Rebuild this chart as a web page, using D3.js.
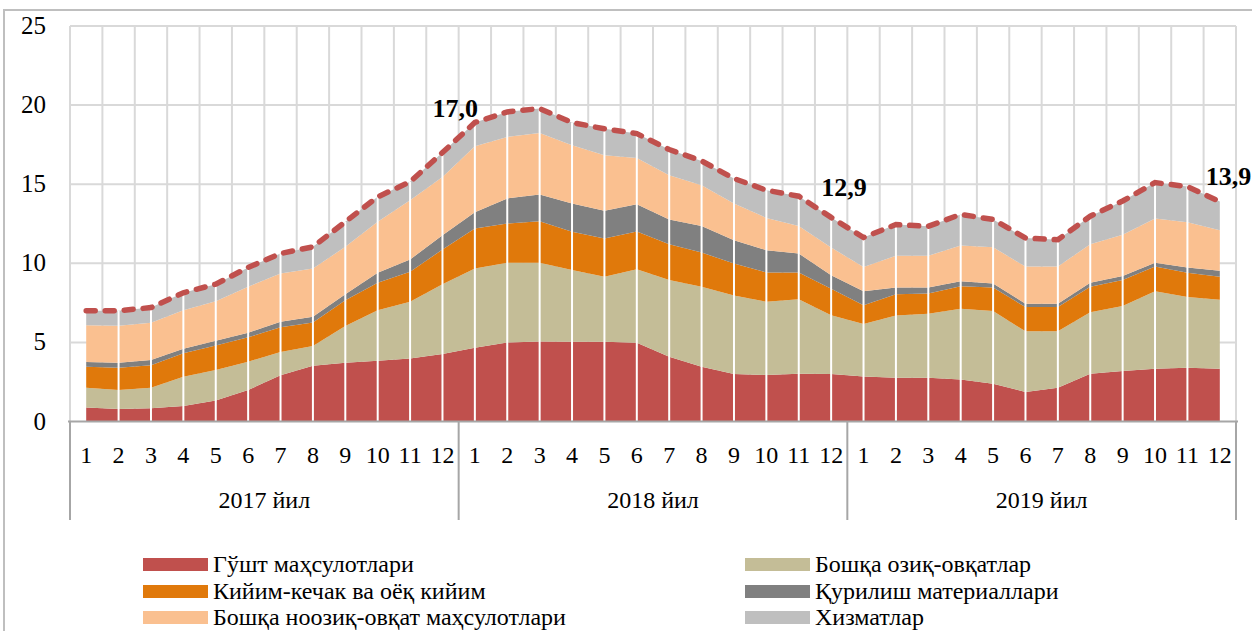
<!DOCTYPE html>
<html><head><meta charset="utf-8">
<script src="https://cdn.jsdelivr.net/npm/d3@7"></script>
<style>
body{margin:0;background:#fff}
svg{display:block}
text{font-family:"Liberation Serif","Times New Roman",serif;fill:#000}
</style>
</head><body>
<svg id="chart" width="1252" height="631"></svg>
<script>
// ---------- DATA ----------
const months = ["1","2","3","4","5","6","7","8","9","10","11","12"];
const years = ["2017 йил","2018 йил","2019 йил"];
const seriesNames = ["Гўшт маҳсулотлари","Бошқа озиқ-овқатлар","Кийим-кечак ва оёқ кийим","Қурилиш материаллари","Бошқа ноозиқ-овқат маҳсулотлари","Хизматлар"];
const meat = [0.89,0.79,0.83,0.98,1.32,1.99,2.92,3.53,3.72,3.84,3.99,4.27, 4.66,5.00,5.06,5.04,5.04,4.98,4.09,3.46,3.00,2.94,3.02,3.00, 2.84,2.77,2.77,2.66,2.38,1.87,2.13,3.02,3.19,3.34,3.40,3.34];
const otherFood = [1.25,1.20,1.31,1.85,1.93,1.79,1.47,1.24,2.31,3.20,3.58,4.41, 5.01,5.03,4.97,4.53,4.11,4.65,4.85,5.06,4.97,4.63,4.70,3.71, 3.33,3.93,4.04,4.47,4.60,3.83,3.57,3.89,4.11,4.89,4.47,4.36];
const clothing = [1.32,1.41,1.41,1.48,1.56,1.54,1.56,1.49,1.64,1.73,1.89,2.19, 2.53,2.49,2.63,2.42,2.42,2.38,2.27,2.16,2.02,1.85,1.70,1.68, 1.18,1.34,1.28,1.42,1.49,1.53,1.53,1.60,1.64,1.56,1.53,1.45];
const construction = [0.30,0.32,0.33,0.29,0.29,0.29,0.36,0.36,0.38,0.63,0.78,0.90, 1.02,1.58,1.69,1.79,1.75,1.73,1.56,1.67,1.47,1.41,1.20,0.86, 0.89,0.43,0.38,0.32,0.25,0.22,0.22,0.26,0.25,0.25,0.34,0.38];
const otherNonFood = [2.33,2.33,2.36,2.44,2.50,2.91,3.05,3.05,2.99,3.22,3.75,3.69, 4.18,3.89,3.89,3.68,3.51,2.92,2.80,2.59,2.32,2.04,1.73,1.75, 1.52,2.00,2.00,2.26,2.30,2.34,2.34,2.44,2.62,2.79,2.86,2.56];
const services = [0.91,0.95,0.96,1.10,1.08,1.22,1.26,1.37,1.58,1.58,1.16,1.54, 1.50,1.58,1.54,1.44,1.67,1.54,1.62,1.53,1.58,1.75,1.89,1.90, 1.87,1.98,1.87,1.96,1.75,1.81,1.70,1.77,2.13,2.27,2.25,1.81];
const yTicks = [0,5,10,15,20,25];
const labelledPoints = [11,23,35];

// ---------- BUILD ----------
const colors = ["#C0504D","#C4BD97","#E0790B","#808080","#FAC090","#BFBFBF"];
const seriesArrays = [meat, otherFood, clothing, construction, otherNonFood, services];
const categories = years.flatMap((y,yi)=>months.map(m=>yi+"-"+m));
const rows = categories.map((c,i)=>{
  const r={cat:c};
  seriesNames.forEach((n,k)=>r[n]=seriesArrays[k][i]);
  r.total = d3.sum(seriesArrays, a=>a[i]);
  return r;
});

const svg = d3.select("#chart");
const L=70, R=1236, T=26, B=421.5;
const x = d3.scaleBand().domain(categories).range([L,R]);
const cx = c => x(c)+x.bandwidth()/2;
const y = d3.scaleLinear().domain([0,25]).range([B,T]);

// outer frame
svg.append("rect").attr("x",4).attr("y",10).attr("width",1260).attr("height",640)
  .attr("fill","none").attr("stroke","#bfbfbf").attr("stroke-width",2);

// gridlines
const grid = svg.append("g");
grid.selectAll("line.h").data(yTicks.filter(v=>v>0)).join("line")
  .attr("x1",L).attr("x2",R).attr("y1",d=>y(d)).attr("y2",d=>y(d))
  .attr("stroke","#d9d9d9").attr("stroke-width",2);
grid.selectAll("line.v").data(categories.concat(["end"])).join("line")
  .attr("x1",(d,i)=>L+i*x.bandwidth()).attr("x2",(d,i)=>L+i*x.bandwidth())
  .attr("y1",T).attr("y2",B).attr("stroke","#d9d9d9").attr("stroke-width",2);

// stacked areas
const stack = d3.stack().keys(seriesNames);
const layers = stack(rows);
const area = d3.area().x(d=>cx(d.data.cat)).y0(d=>y(d[0])).y1(d=>y(d[1]));
svg.append("g").selectAll("path").data(layers).join("path")
  .attr("d",area).attr("fill",(d,i)=>colors[i]);

// white drop lines
svg.append("g").selectAll("line").data(rows.slice(1,-1)).join("line")
  .attr("x1",d=>cx(d.cat)).attr("x2",d=>cx(d.cat))
  .attr("y1",y(0)).attr("y2",d=>y(d.total))
  .attr("stroke","#fff").attr("stroke-width",2);

// dashed total line
const line = d3.line().x(d=>cx(d.cat)).y(d=>y(d.total));
svg.append("path").datum(rows).attr("d",line).attr("fill","none")
  .attr("stroke","#C0504D").attr("stroke-width",5.5)
  .attr("stroke-dasharray","9,10").attr("stroke-linecap","round");

// x axis
const ax = svg.append("g");
ax.append("line").attr("x1",L-2).attr("x2",R+2).attr("y1",B).attr("y2",B)
  .attr("stroke","#a6a6a6").attr("stroke-width",2);
const groupW = x.bandwidth()*months.length;
ax.selectAll("line.div").data(d3.range(years.length+1)).join("line")
  .attr("x1",d=>L+d*groupW).attr("x2",d=>L+d*groupW)
  .attr("y1",B).attr("y2",520).attr("stroke","#a6a6a6").attr("stroke-width",2);
ax.selectAll("text.m").data(rows).join("text")
  .attr("x",d=>cx(d.cat)).attr("y",463).attr("text-anchor","middle")
  .attr("font-size",24).text(d=>d.cat.split("-")[1]);
ax.selectAll("text.yr").data(years).join("text")
  .attr("x",(d,i)=>L+(i+0.5)*groupW).attr("y",508).attr("text-anchor","middle")
  .attr("font-size",24).text(d=>d);

// y labels
svg.append("g").selectAll("text").data(yTicks).join("text")
  .attr("x",46).attr("y",d=>y(d)+8).attr("text-anchor","end")
  .attr("font-size",25).text(d=>d);

// data labels
const labelDy = [-36,-21,-17];
const labelDx = [-10,-10,-14];
const fmt = v => d3.format(".1f")(v).replace(".",",");
svg.append("g").selectAll("text").data(labelledPoints).join("text")
  .attr("x",(i,k)=>cx(rows[i].cat)+labelDx[k]).attr("y",(i,k)=>y(rows[i].total)+labelDy[k])
  .attr("font-size",26).attr("font-weight","bold").text(i=>fmt(rows[i].total));

// legend
const leg = svg.append("g");
const legItems = seriesNames.map((n,i)=>({n,i,col:i%2,row:Math.floor(i/2)}));
const legX=[143,745], legY=[565,592,618];
const li = leg.selectAll("g").data(legItems).join("g")
  .attr("transform",d=>`translate(${legX[d.col]},${legY[d.row]})`);
li.append("rect").attr("x",0).attr("y",-7).attr("width",65).attr("height",13)
  .attr("fill",d=>colors[d.i]);
li.append("text").attr("x",70).attr("y",7).attr("font-size",24).text(d=>d.n);
</script>
</body></html>
